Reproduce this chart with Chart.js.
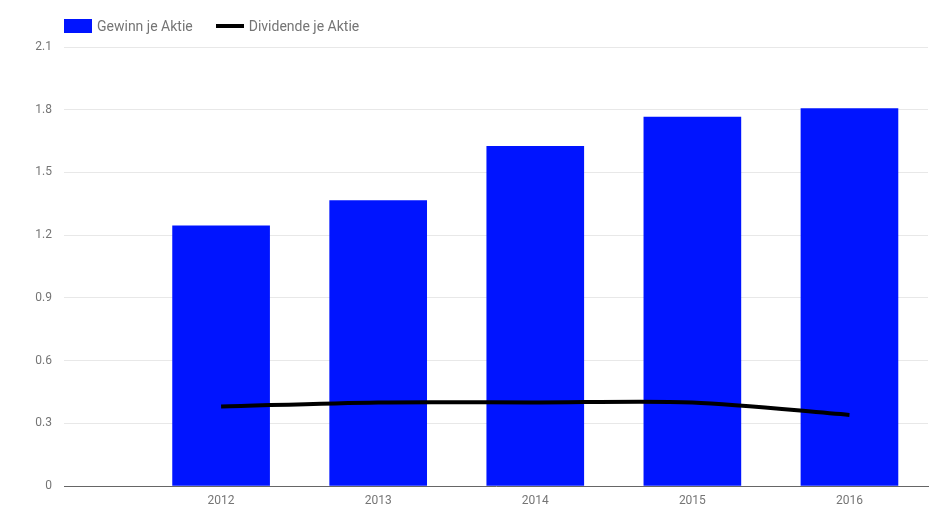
<!DOCTYPE html>
<html>
<head>
<meta charset="utf-8">
<script src="https://cdn.jsdelivr.net/npm/chart.js@4"></script>
<style>
  body { margin: 0; background: #fff; }
  #wrap { position: relative; width: 948px; height: 520px; }
  #legend { position: absolute; left: 64px; top: 18px; height: 16px; display: flex; align-items: center;
            font: 14px Roboto, sans-serif; color: #757575; }
  .item { display: flex; align-items: center; margin-right: 23px; }
  .sw { display: block; width: 28px; margin-right: 5px; }
</style>
</head>
<body>
<div id="wrap">
  <canvas id="epsChart" width="948" height="520"></canvas>
  <div id="legend">
    <span class="item"><span class="sw" style="height:14px;background:#0014ff"></span>Gewinn je Aktie</span>
    <span class="item"><span class="sw" style="height:4px;background:#000"></span>Dividende je Aktie</span>
  </div>
</div>
<script>
// Werte
const years = [2012, 2013, 2014, 2015, 2016];
const gewinn = [1.245, 1.365, 1.625, 1.765, 1.805];
const dividende = [0.38, 0.40, 0.40, 0.40, 0.34];
const yTicks = [0, 0.3, 0.6, 0.9, 1.2, 1.5, 1.8, 2.1];

const ctx = document.getElementById('epsChart').getContext('2d');
const epsChart = new Chart(ctx, {
    type: 'bar',
    data: {
        datasets: [
            {
                type: 'line',
                label: 'Dividende je Aktie',
                data: years.map((y, i) => ({ x: y, y: dividende[i] })),
                borderColor: '#000000',
                borderWidth: 4,
                pointRadius: 0,
                tension: 0.3,
                order: 0
            },
            {
                label: 'Gewinn je Aktie',
                data: years.map((y, i) => ({ x: y, y: gewinn[i] })),
                backgroundColor: '#0014ff',
                barThickness: 97,
                order: 1
            }
        ]
    },
    options: {
        responsive: false,
        animation: false,
        layout: { padding: { top: 47, right: 20, left: 0, bottom: 0 } },
        plugins: {
            legend: { display: false },
            tooltip: { enabled: false }
        },
        scales: {
            x: {
                type: 'linear',
                min: 2011,
                max: 2016.5,
                offset: false,
                afterBuildTicks: axis => { axis.ticks = years.map(v => ({ value: v })); },
                afterFit: axis => { axis.height = 34; },
                ticks: {
                    color: '#757575',
                    font: { family: 'Roboto', size: 12 },
                    padding: 0,
                    callback: v => String(v)
                },
                grid: { display: false, offset: false },
                border: { display: true, color: '#666666', width: 1 }
            },
            y: {
                min: 0,
                max: 2.1,
                afterBuildTicks: axis => { axis.ticks = yTicks.map(v => ({ value: v })); },
                afterFit: axis => { axis.width = 64; },
                ticks: {
                    color: '#757575',
                    font: { family: 'Roboto', size: 12 },
                    padding: 12,
                    callback: v => (v === 0 ? '0' : v.toFixed(1))
                },
                grid: { color: '#e8e8e8', drawTicks: false },
                border: { display: false }
            }
        }
    }
});
</script>
</body>
</html>
